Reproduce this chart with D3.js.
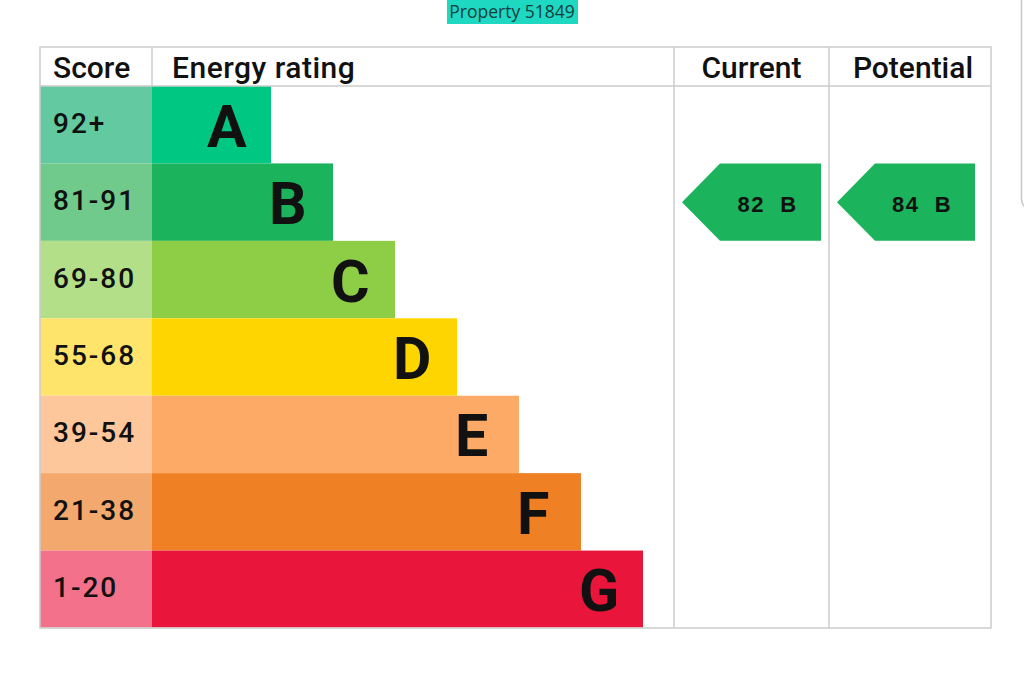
<!DOCTYPE html>
<html><head><meta charset="utf-8">
<script src="https://cdn.jsdelivr.net/npm/d3@7"></script>
<style>
html,body{margin:0;padding:0;background:#fff;}
svg{display:block;}
</style></head>
<body>
<svg id="chart" width="1024" height="695"></svg>
<script>
const title = "Property 51849";
const bands = ["A","B","C","D","E","F","G"];
const scoreRanges = ["92+","81-91","69-80","55-68","39-54","21-38","1-20"];
const barColors = ["#00c781","#1bb35b","#8dce46","#ffd500","#fcaa65","#ef8124","#e9153b"];
const scoreColors = ["#62c9a1","#6fca8b","#b4df89","#ffe46b","#fdc79b","#f3a86d","#f3718a"];
const headers = ["Score","Energy rating","Current","Potential"];
const currentValue = 82, currentBand = "B";
const potentialValue = 84, potentialBand = "B";

const svg = d3.select("#chart");
const L = 40, R = 991, T = 47, H = 86, B = 628;
const colScore = 152, colCur = 674, colPot = 829;

const y = d3.scaleBand().domain(bands).range([H, B]).padding(0);
const xBar = d3.scaleLinear().domain([0, bands.length - 1]).range([271, 643]);

// title
const tg = svg.append("g");
tg.append("rect").attr("x",447).attr("y",0).attr("width",131).attr("height",24).attr("fill","#1ed8c2");
tg.append("text").attr("x",512).attr("y",18).attr("text-anchor","middle")
  .attr("font-family","'Open Sans', 'Noto Sans', sans-serif").attr("font-size",17.5)
  .attr("fill","#143f3d").text(title);

// score cells
svg.selectAll("rect.score").data(bands).join("rect")
  .attr("x", L).attr("y", d => y(d)).attr("width", colScore - L).attr("height", y.bandwidth())
  .attr("fill", (d,i) => scoreColors[i]);

// bars
svg.selectAll("rect.bar").data(bands).join("rect")
  .attr("x", colScore).attr("y", d => y(d)).attr("width", (d,i) => xBar(i) - colScore).attr("height", y.bandwidth())
  .attr("fill", (d,i) => barColors[i]);

// score labels
svg.selectAll("text.score").data(bands).join("text")
  .attr("x", 53).attr("y", d => y(d) + y.bandwidth()/2 + 8)
  .attr("font-family","Roboto, sans-serif").attr("font-weight",500).attr("font-size",28)
  .attr("letter-spacing",2)
  .attr("fill","#111").text((d,i) => scoreRanges[i]);

// letters
svg.selectAll("text.letter").data(bands).join("text")
  .attr("x", (d,i) => xBar(i) - 64).attr("y", d => y(d) + y.bandwidth()/2 + 22)
  .attr("text-anchor","start")
  .attr("font-family","Roboto, sans-serif").attr("font-weight",700).attr("font-size",59)
  .attr("fill","#111").text(d => d);

// grid lines
const g = svg.append("g").attr("stroke","#cccccc").attr("stroke-width",1.5).attr("fill","none");
g.append("rect").attr("x",L).attr("y",T).attr("width",R-L).attr("height",B-T);
g.append("line").attr("x1",L).attr("x2",R).attr("y1",H).attr("y2",H);
g.append("line").attr("x1",colScore).attr("x2",colScore).attr("y1",T).attr("y2",H);
[colCur, colPot].forEach(x => g.append("line").attr("x1",x).attr("x2",x).attr("y1",T).attr("y2",B));
svg.append("line").attr("x1",L).attr("x2",643).attr("y1",B).attr("y2",B).attr("stroke","#d8d8d8").attr("stroke-width",1.2);

// headers
const hf = {"font-family":"Roboto, sans-serif","font-weight":500,"font-size":30,"fill":"#111"};
const hx = [{x:53,a:"start",ls:0},{x:172,a:"start",ls:0.5},{x:(colCur+colPot)/2,a:"middle",ls:0},{x:(colPot+R)/2+3,a:"middle",ls:0}];
headers.forEach((h,i) => {
  const t = svg.append("text").attr("x",hx[i].x).attr("y",78).attr("text-anchor",hx[i].a)
    .attr("letter-spacing",hx[i].ls).text(h);
  Object.entries(hf).forEach(([k,v]) => t.attr(k,v));
});

// arrows
function arrow(x0, x1, band, value, letter, color) {
  const top = y(band), bot = y(band) + y.bandwidth(), mid = (top+bot)/2;
  const tip = x0, body = x0 + 38;
  svg.append("path").attr("d", d3.line()([[tip,mid],[body,top],[x1,top],[x1,bot],[body,bot]]) + "Z")
    .attr("fill", color);
  svg.append("text").attr("x", (body + x1)/2 - 3).attr("y", mid + 10)
    .attr("text-anchor","middle").attr("font-family","'Liberation Sans', Arial, sans-serif")
    .attr("font-weight",700).attr("font-size",22).attr("letter-spacing",1.5).attr("fill","#111")
    .style("white-space","pre")
    .text(value + "  " + letter);
}
arrow(682, 821, currentBand, currentValue, currentBand, barColors[bands.indexOf(currentBand)]);
arrow(837, 975, potentialBand, potentialValue, potentialBand, barColors[bands.indexOf(potentialBand)]);

// screen edge artifact
svg.append("path").attr("d","M1021.5,0 L1021.5,198 Q1021.5,208 1030,208").attr("fill","none")
  .attr("stroke","#c8c8c8").attr("stroke-width",1.5);
</script>
</body></html>
